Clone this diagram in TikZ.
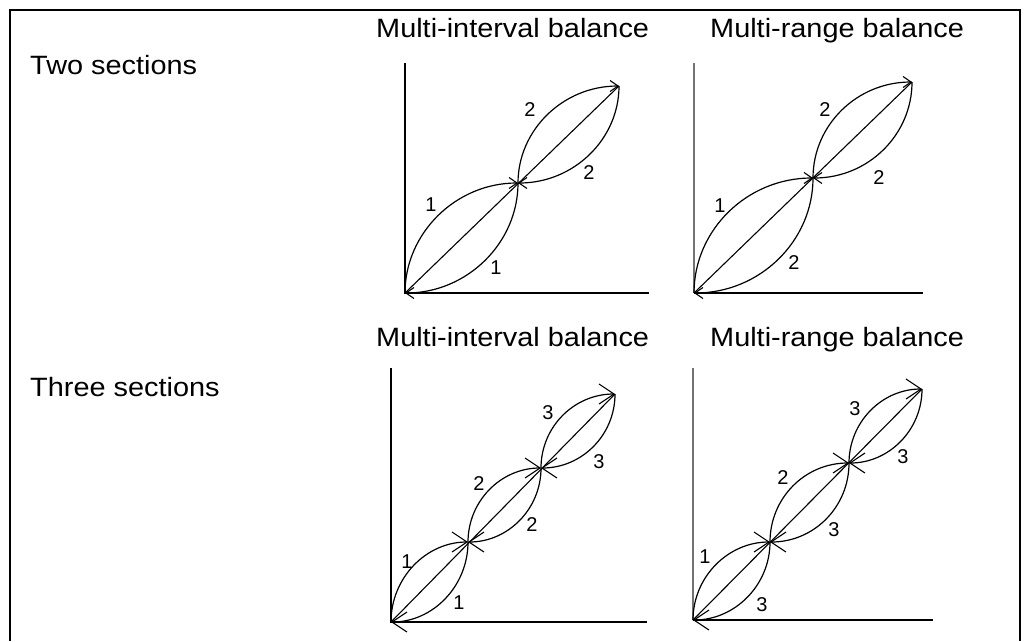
\documentclass[tikz,border=0pt]{standalone}
\usepackage{fontspec}
\setmainfont{Liberation Sans}
\usetikzlibrary{arrows.meta}
\tikzset{
  frame/.style={line width=2pt,black},
  axis/.style={line width=1.8pt,black},
  axisg/.style={line width=1.2pt,black!55},
  curve/.style={line width=1.2pt,black},
  diag/.style={line width=1.1pt,black},
  arrs/.style={-{Straight Barb[length=8pt,width=11pt,line width=1.1pt]}},
  arrb/.style={-{Straight Barb[length=15pt,width=20pt,line width=1.1pt]}},
  head/.style={anchor=base west,inner sep=0pt,font=\fontsize{26.5}{30}\selectfont},
  num/.style={inner sep=0pt,font=\fontsize{20}{24}\selectfont},
}
\newcommand\wide[1]{\scalebox{1.09}[1]{#1}}
\begin{document}
\begin{tikzpicture}[x=1pt,y=-1pt]
\useasboundingbox (0,0) rectangle (1024,641);
\draw[frame] (10,641) -- (10,10) -- (1020,10) -- (1020,641);

% headings
\node[head] (h1) at (376,37) {\wide{Multi-interval balance}};
\node[head] (h2) at (710,37) {\wide{Multi-range balance}};
\node[head] (h3) at (376,346) {\wide{Multi-interval balance}};
\node[head] (h4) at (710,346) {\wide{Multi-range balance}};
\node[head] (s2) at (30,74) {\wide{Two sections}};
\node[head] (s3) at (30,396) {\wide{Three sections}};

% ---------- Diagram 1 ----------
\coordinate (aY) at (405,63);
\coordinate (aO) at (405,293);
\coordinate (aX) at (649,293);
\coordinate (aM) at (518,183);
\coordinate (aT) at (619,86);
\draw[axis] (aY) -- (aO) -- (aX);
\draw[diag] (aO) -- (aT);
\draw[curve,arrs] (aO) .. controls +(0,-60) and +(-62,0) .. (aM);
\draw[curve,arrs] (aM) .. controls +(0,60) and +(62,0) .. (aO);
\draw[curve,arrs] (aM) .. controls +(0,-53) and +(-56,0) .. (aT);
\draw[curve,arrs] (aT) .. controls +(0,53) and +(56,0) .. (aM);
\node[num] (a1) at (530,110) {2};
\node[num] (a2) at (589,173) {2};
\node[num] (a3) at (431,205) {1};
\node[num] (a4) at (496,268) {1};

% ---------- Diagram 2 ----------
\coordinate (bY) at (694,63);
\coordinate (bO) at (694,293);
\coordinate (bX) at (923,293);
\coordinate (bM) at (813,178);
\coordinate (bT) at (912,82);
\draw[axisg] (bY) -- (bO);
\draw[axis] (bO) -- (bX);
\draw[diag] (bO) -- (bT);
\draw[curve,arrs] (bO) .. controls +(0,-63) and +(-66,0) .. (bM);
\draw[curve,arrs] (bM) .. controls +(0,63) and +(66,0) .. (bO);
\draw[curve,arrs] (bM) .. controls +(0,-53) and +(-55,0) .. (bT);
\draw[curve,arrs] (bT) .. controls +(0,53) and +(55,0) .. (bM);
\node[num] (b1) at (825,110) {2};
\node[num] (b2) at (879,178) {2};
\node[num] (b3) at (720,206) {1};
\node[num] (b4) at (794,263) {2};

% ---------- Diagram 3 ----------
\coordinate (cY) at (391,368);
\coordinate (cO) at (391,622);
\coordinate (cX) at (647,622);
\coordinate (cP) at (468,542);
\coordinate (cQ) at (541,468);
\coordinate (cR) at (615,394);
\draw[axis] (cY) -- (cO) -- (cX);
\draw[diag] (cO) -- (cR);
\draw[curve,arrb] (cO) .. controls +(0,-44) and +(-42,0) .. (cP);
\draw[curve,arrb] (cP) .. controls +(0,44) and +(42,0) .. (cO);
\draw[curve,arrb] (cP) .. controls +(0,-41) and +(-40,0) .. (cQ);
\draw[curve,arrb] (cQ) .. controls +(0,41) and +(40,0) .. (cP);
\draw[curve,arrb] (cQ) .. controls +(0,-41) and +(-41,0) .. (cR);
\draw[curve,arrb] (cR) .. controls +(0,41) and +(41,0) .. (cQ);
\node[num] (c1) at (548,413) {3};
\node[num] (c2) at (599,462) {3};
\node[num] (c3) at (479,484) {2};
\node[num] (c4) at (532,525) {2};
\node[num] (c5) at (407,562) {1};
\node[num] (c6) at (459,603) {1};

% ---------- Diagram 4 ----------
\coordinate (dY) at (693,368);
\coordinate (dO) at (693,620);
\coordinate (dX) at (933,620);
\coordinate (dP) at (770,542);
\coordinate (dQ) at (849,463);
\coordinate (dR) at (922,389);
\draw[axisg] (dY) -- (dO);
\draw[axis] (dO) -- (dX);
\draw[diag] (dO) -- (dR);
\draw[curve,arrb] (dO) .. controls +(0,-43) and +(-42,0) .. (dP);
\draw[curve,arrb] (dP) .. controls +(0,43) and +(42,0) .. (dO);
\draw[curve,arrb] (dP) .. controls +(0,-44) and +(-44,0) .. (dQ);
\draw[curve,arrb] (dQ) .. controls +(0,44) and +(44,0) .. (dP);
\draw[curve,arrb] (dQ) .. controls +(0,-41) and +(-40,0) .. (dR);
\draw[curve,arrb] (dR) .. controls +(0,41) and +(40,0) .. (dQ);
\node[num] (d1) at (855,409) {3};
\node[num] (d2) at (903,457) {3};
\node[num] (d3) at (783,478) {2};
\node[num] (d4) at (834,530) {3};
\node[num] (d5) at (705,557) {1};
\node[num] (d6) at (762,605) {3};
\end{tikzpicture}
\end{document}
